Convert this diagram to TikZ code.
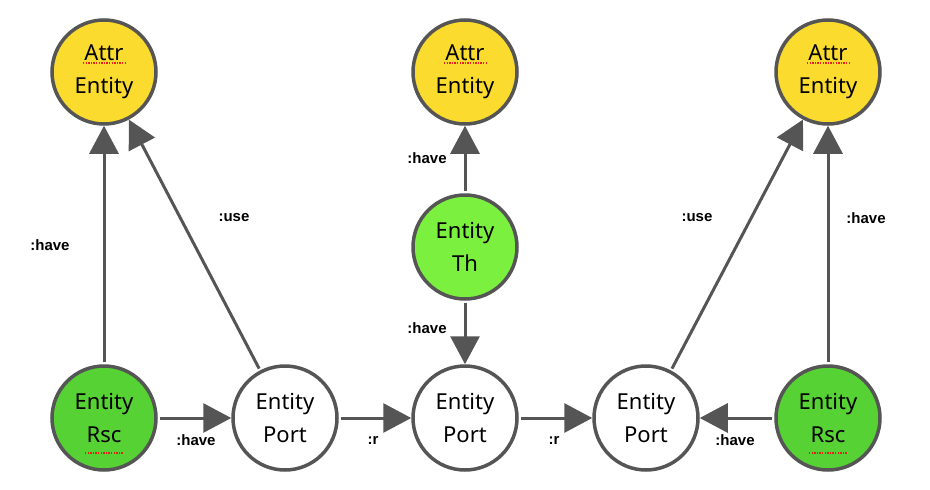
\documentclass[tikz,border=0pt]{standalone}
\usepackage{fontspec}
\setmainfont{Noto Sans}
\newfontfamily\lblfont{Liberation Sans}
\usetikzlibrary{arrows.meta}
\definecolor{attrY}{HTML}{FBDB2E}
\definecolor{rscG}{HTML}{56D234}
\definecolor{thG}{HTML}{7CF03E}
\definecolor{edgeC}{HTML}{555555}
\definecolor{spellR}{HTML}{E8201A}
\begin{document}
\begin{tikzpicture}[x=1pt,y=-1pt,
  ent/.style={circle, draw=edgeC, line width=3.5pt, minimum size=104pt, inner sep=0pt, align=center,
    font=\fontsize{22}{33}\selectfont},
  attr/.style={ent, fill=attrY},
  rsc/.style={ent, fill=rscG},
  th/.style={ent, fill=thG},
  port/.style={ent, fill=white},
  rel/.style={draw=edgeC, line width=3pt, -{Triangle[length=28pt,width=29pt]}, shorten <=2pt},
  lbl/.style={font=\lblfont\fontsize{15}{17}\selectfont\bfseries, text=black},
  spell/.style={draw=spellR, line width=1.3pt, dash pattern=on 1.3pt off 1.3pt}
]
\useasboundingbox (0,0) rectangle (930,490);

\node[attr] (a1) at (104,72) {Attr\\Entity};
\node[attr] (a2) at (465,72) {Attr\\Entity};
\node[attr] (a3) at (828,72) {Attr\\Entity};
\node[th]   (th) at (465,247) {Entity\\Th};
\node[rsc]  (r1) at (104,418) {Entity\\Rsc};
\node[port] (p1) at (285,418) {Entity\\Port};
\node[port] (p2) at (465,418) {Entity\\Port};
\node[port] (p3) at (646,418) {Entity\\Port};
\node[rsc]  (r2) at (828,418) {Entity\\Rsc};

% spell-check underlines
\draw[spell] ([shift={(-21,-9)}]a1.center) -- ([shift={(21,-9)}]a1.center);
\draw[spell] ([shift={(-21,-9)}]a2.center) -- ([shift={(21,-9)}]a2.center);
\draw[spell] ([shift={(-21,-9)}]a3.center) -- ([shift={(21,-9)}]a3.center);
\draw[spell] ([shift={(-19,35)}]r1.center) -- ([shift={(19,35)}]r1.center);
\draw[spell] ([shift={(-19,35)}]r2.center) -- ([shift={(19,35)}]r2.center);

\path[rel] (r1) -- (a1);
\path[rel] (p1) -- (a1);
\path[rel] (th) -- (a2);
\path[rel] (th) -- (p2);
\path[rel] (r1) -- (p1);
\path[rel] (p1) -- (p2);
\path[rel] (p2) -- (p3);
\path[rel] (r2) -- (p3);
\path[rel] (p3) -- (a3);
\path[rel] (r2) -- (a3);

\node[lbl] (l1) at (50,245) {:have};
\node[lbl] (l2) at (234,218) {:use};
\node[lbl] (l3) at (427,158) {:have};
\node[lbl] (l4) at (427,328) {:have};
\node[lbl] (l5) at (196,440) {:have};
\node[lbl] (l6) at (373,440) {:r};
\node[lbl] (l7) at (554,440) {:r};
\node[lbl] (l8) at (735,440) {:have};
\node[lbl] (l9) at (697,218) {:use};
\node[lbl] (l10) at (866,218) {:have};
\end{tikzpicture}
\end{document}
